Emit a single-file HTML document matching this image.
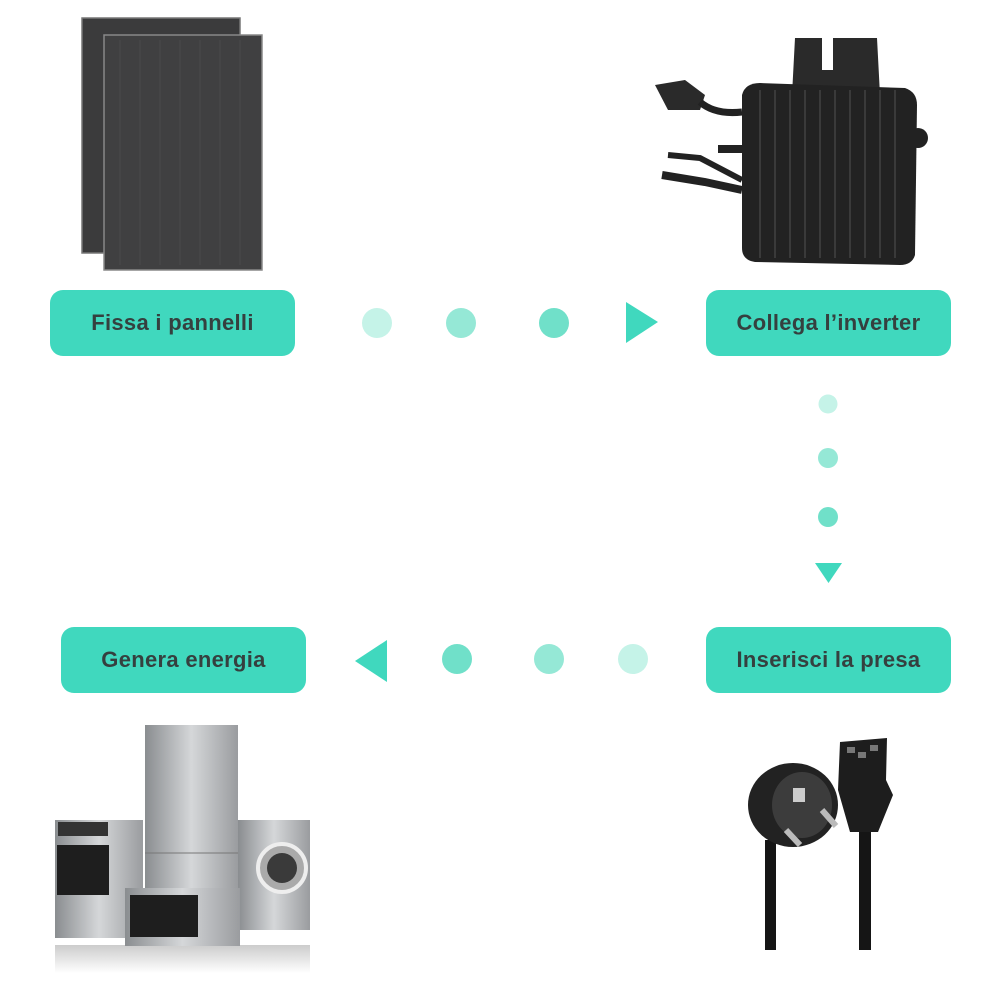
<!DOCTYPE html>
<html><head><meta charset="utf-8"><style>
body{margin:0;background:#fff;}
.w{position:relative;width:1000px;height:1000px;overflow:hidden;font-family:"Liberation Sans",sans-serif;}
.b{position:absolute;width:245px;height:66px;border-radius:13px;background:#40d8be;color:#35403f;font-weight:bold;font-size:22px;letter-spacing:0.3px;display:flex;align-items:center;justify-content:center;}
svg{position:absolute;left:0;top:0;}
</style></head><body><div class="w">
<svg width="1000" height="1000" viewBox="0 0 1000 1000">
<defs>
<linearGradient id="st" x1="0" x2="1"><stop offset="0" stop-color="#8a8d90"/><stop offset=".5" stop-color="#d5d7d9"/><stop offset="1" stop-color="#9a9c9f"/></linearGradient>
<linearGradient id="fd" x1="0" y1="0" x2="0" y2="1"><stop offset="0" stop-color="#ccc"/><stop offset="1" stop-color="#fff"/></linearGradient>
</defs>
<rect x="82" y="18" width="158" height="235" fill="#3b3b3c" stroke="#777" stroke-width="1.5"/>
<rect x="104" y="35" width="158" height="235" fill="#404041" stroke="#888" stroke-width="1.5"/>
<g stroke="#4a4a4b" stroke-width="1">
<line x1="120" y1="40" x2="120" y2="265"/><line x1="140" y1="40" x2="140" y2="265"/><line x1="160" y1="40" x2="160" y2="265"/><line x1="180" y1="40" x2="180" y2="265"/><line x1="200" y1="40" x2="200" y2="265"/><line x1="220" y1="40" x2="220" y2="265"/><line x1="240" y1="40" x2="240" y2="265"/>
</g>
<path d="M795 38 L822 38 L822 70 L833 70 L833 38 L877 38 L880 95 L792 95 Z" fill="#2a2a2a"/>
<path d="M742 95 Q745 83 760 83 L905 88 Q917 92 917 105 L915 255 Q912 265 900 265 L755 262 Q742 260 742 248 Z" fill="#222"/>
<g stroke="#3a3a3a" stroke-width="2">
<line x1="760" y1="90" x2="760" y2="258"/><line x1="775" y1="90" x2="775" y2="258"/><line x1="790" y1="90" x2="790" y2="258"/><line x1="805" y1="90" x2="805" y2="258"/><line x1="820" y1="90" x2="820" y2="258"/><line x1="835" y1="90" x2="835" y2="258"/><line x1="850" y1="90" x2="850" y2="258"/><line x1="865" y1="90" x2="865" y2="258"/><line x1="880" y1="90" x2="880" y2="258"/><line x1="895" y1="90" x2="895" y2="258"/>
</g>
<circle cx="918" cy="138" r="10" fill="#222"/>
<path d="M655 85 L685 80 L705 95 L700 110 L668 110 Z" fill="#2a2a2a"/>
<path d="M700 102 Q715 115 742 112" stroke="#222" stroke-width="7" fill="none"/>
<rect x="718" y="145" width="26" height="8" fill="#222"/>
<path d="M668 155 L700 158 L742 180" stroke="#222" stroke-width="6" fill="none"/>
<path d="M662 175 L705 182 L742 190" stroke="#222" stroke-width="8" fill="none"/>
<circle cx="377" cy="323" r="15" fill="#c5f3e8"/>
<circle cx="461" cy="323" r="15" fill="#95e8d6"/>
<circle cx="554" cy="323" r="15" fill="#70e0c9"/>
<polygon points="626,302 658,322 626,343" fill="#40d8be"/>
<circle cx="828" cy="404" r="9.5" fill="#c5f3e8"/>
<circle cx="828" cy="458" r="10" fill="#95e8d6"/>
<circle cx="828" cy="517" r="10" fill="#70e0c9"/>
<polygon points="815,563 842,563 828.5,583" fill="#40d8be"/>
<polygon points="387,640 387,682 355,661" fill="#40d8be"/>
<circle cx="457" cy="659" r="15" fill="#70e0c9"/>
<circle cx="549" cy="659" r="15" fill="#95e8d6"/>
<circle cx="633" cy="659" r="15" fill="#c5f3e8"/>
<rect x="55" y="945" width="255" height="28" fill="url(#fd)"/>
<rect x="145" y="725" width="93" height="165" fill="url(#st)"/>
<line x1="145" y1="853" x2="238" y2="853" stroke="#777"/>
<rect x="55" y="820" width="88" height="118" fill="url(#st)"/>
<rect x="58" y="822" width="50" height="14" fill="#333"/>
<rect x="57" y="845" width="52" height="50" fill="#1e1e1e"/>
<rect x="238" y="820" width="72" height="110" fill="url(#st)"/>
<circle cx="282" cy="868" r="24" fill="#aaa" stroke="#eee" stroke-width="4"/>
<circle cx="282" cy="868" r="15" fill="#3a3a3a"/>
<rect x="125" y="888" width="115" height="58" fill="url(#st)"/>
<rect x="130" y="895" width="68" height="42" fill="#1e1e1e"/>
<rect x="765" y="840" width="11" height="110" fill="#151515"/>
<rect x="859" y="790" width="12" height="160" fill="#151515"/>
<ellipse cx="793" cy="805" rx="45" ry="42" fill="#222"/>
<ellipse cx="802" cy="805" rx="30" ry="33" fill="#3c3c3c"/>
<rect x="793" y="788" width="12" height="14" fill="#ccc"/>
<line x1="786" y1="830" x2="800" y2="845" stroke="#bbb" stroke-width="6"/>
<line x1="822" y1="810" x2="836" y2="826" stroke="#bbb" stroke-width="6"/>
<path d="M840 742 L887 738 L886 780 L893 795 L878 832 L850 832 L838 790 Z" fill="#1d1d1d"/>
<rect x="847" y="747" width="8" height="6" fill="#777"/><rect x="870" y="745" width="8" height="6" fill="#777"/><rect x="858" y="752" width="8" height="6" fill="#777"/>
</svg>
<div class="b" style="left:50px;top:290px">Fissa i pannelli</div>
<div class="b" style="left:706px;top:290px">Collega l’inverter</div>
<div class="b" style="left:61px;top:627px">Genera energia</div>
<div class="b" style="left:706px;top:627px">Inserisci la presa</div>
</div></body></html>
